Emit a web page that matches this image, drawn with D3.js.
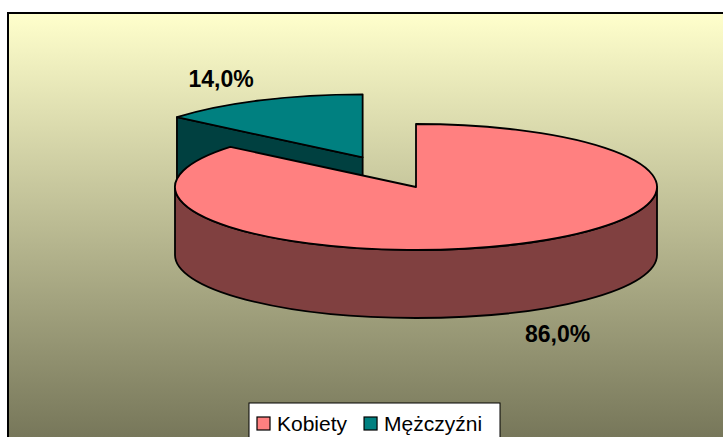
<!DOCTYPE html>
<html>
<head>
<meta charset="utf-8">
<script src="https://cdn.jsdelivr.net/npm/d3@7/dist/d3.min.js"></script>
<style>
  html, body { margin: 0; padding: 0; background: #fff; }
  text { font-family: Arial, "Liberation Sans", sans-serif; }
</style>
</head>
<body>
<svg id="chart" width="723" height="437"></svg>
<script>
// data
var categories = ["Kobiety", "Mężczyźni"];
var values = [86.0, 14.0];
var topColors = ["#ff8080", "#008080"];
var sideColors = ["#804040", "#004040"];
var exploded = [0, 0.52];

var svg = d3.select("#chart");

// background gradient of the plot area
var defs = svg.append("defs");
var grad = defs.append("linearGradient")
    .attr("id", "bg")
    .attr("gradientUnits", "userSpaceOnUse")
    .attr("x1", 0).attr("y1", 13).attr("x2", 0).attr("y2", 437);
grad.append("stop").attr("offset", "0%").attr("stop-color", "#ffffcc");
grad.append("stop").attr("offset", "100%").attr("stop-color", "#77775a");

svg.append("rect")
    .attr("x", 8).attr("y", 13)
    .attr("width", 800).attr("height", 500)
    .attr("fill", "url(#bg)")
    .attr("stroke", "#000")
    .attr("stroke-width", 2);

// pie geometry (ellipse seen in perspective)
var cx = 416, cy = 187, rx = 241, ry = 63, depth = 68;

var pie = d3.pie().sort(null).startAngle(0).endAngle(2 * Math.PI);
var arcs = pie(values);

function pt(a, ox, oy, dz) {
    return [cx + ox + rx * Math.sin(a), cy + oy - ry * Math.cos(a) + (dz || 0)];
}

arcs.forEach(function(d, i) {
    var mid = (d.startAngle + d.endAngle) / 2;
    d.ox = exploded[i] * rx * Math.sin(mid);
    d.oy = -exploded[i] * ry * Math.cos(mid);
    d.mid = mid;
});

function topPath(d) {
    var p0 = pt(d.startAngle, d.ox, d.oy), p1 = pt(d.endAngle, d.ox, d.oy);
    var large = (d.endAngle - d.startAngle) > Math.PI ? 1 : 0;
    return "M" + (cx + d.ox) + "," + (cy + d.oy) +
        "L" + p0 + "A" + rx + "," + ry + " 0 " + large + " 1 " + p1 + "Z";
}

// outer wall, only the front half (PI/2 .. 3PI/2) is visible
function wallPath(d) {
    var a0 = Math.max(d.startAngle, Math.PI / 2);
    var a1 = Math.min(d.endAngle, 3 * Math.PI / 2);
    if (a1 <= a0) return null;
    var t0 = pt(a0, d.ox, d.oy), t1 = pt(a1, d.ox, d.oy);
    var b0 = pt(a0, d.ox, d.oy, depth), b1 = pt(a1, d.ox, d.oy, depth);
    return "M" + t0 + "A" + rx + "," + ry + " 0 0 1 " + t1 +
        "L" + b1 + "A" + rx + "," + ry + " 0 0 0 " + b0 + "Z";
}

// radial cut face at the start angle (visible when it faces the viewer)
function cutPath(d) {
    var a = d.startAngle;
    if (Math.cos(a - Math.PI / 2) >= 0) return null;
    var c = [cx + d.ox, cy + d.oy];
    var p = pt(a, d.ox, d.oy);
    return "M" + c + "L" + p + "L" + [p[0], p[1] + depth] + "L" + [c[0], c[1] + depth] + "Z";
}

var g = svg.append("g");

// draw back slices first (the exploded one sits behind)
var order = [1, 0];
order.forEach(function(i) {
    var d = arcs[i];
    var cut = cutPath(d);
    if (cut) g.append("path").attr("d", cut)
        .attr("fill", sideColors[i]).attr("stroke", "#000").attr("stroke-width", 1.8)
        .attr("stroke-linejoin", "round");
    var wall = wallPath(d);
    if (wall) g.append("path").attr("d", wall)
        .attr("fill", sideColors[i]).attr("stroke", "#000").attr("stroke-width", 1.8)
        .attr("stroke-linejoin", "round");
    g.append("path").attr("d", topPath(d))
        .attr("fill", topColors[i]).attr("stroke", "#000").attr("stroke-width", 1.8)
        .attr("stroke-linejoin", "round");
});

// percentage labels
var fmt = function(v) { return v.toFixed(1).replace(".", ",") + "%"; };
var k = 1.38;
svg.selectAll("text.lbl")
    .data(arcs)
    .enter().append("text")
    .attr("class", "lbl")
    .attr("x", function(d) { return cx + d.ox + k * rx * Math.sin(d.mid); })
    .attr("y", function(d) {
        var y = cy + d.oy - k * ry * Math.cos(d.mid);
        if (Math.cos(d.mid) < 0) y += depth;
        return y + 8;
    })
    .attr("text-anchor", "middle")
    .attr("font-size", 23)
    .attr("font-weight", "bold")
    .attr("fill", "#000")
    .text(function(d) { return fmt(d.value); });

// legend
var legend = svg.append("g");
legend.append("rect")
    .attr("x", 249).attr("y", 403)
    .attr("width", 251).attr("height", 60)
    .attr("fill", "#fff").attr("stroke", "#000").attr("stroke-width", 1);

var lx = 257;
categories.forEach(function(c, i) {
    legend.append("rect")
        .attr("x", lx).attr("y", 417)
        .attr("width", 13).attr("height", 13)
        .attr("fill", topColors[i]).attr("stroke", "#000").attr("stroke-width", 1.2);
    var t = legend.append("text")
        .attr("x", lx + 20).attr("y", 431)
        .attr("font-size", 21)
        .attr("fill", "#000")
        .text(c);
    lx += 20 + t.node().getComputedTextLength() + 17;
});
</script>
</body>
</html>
